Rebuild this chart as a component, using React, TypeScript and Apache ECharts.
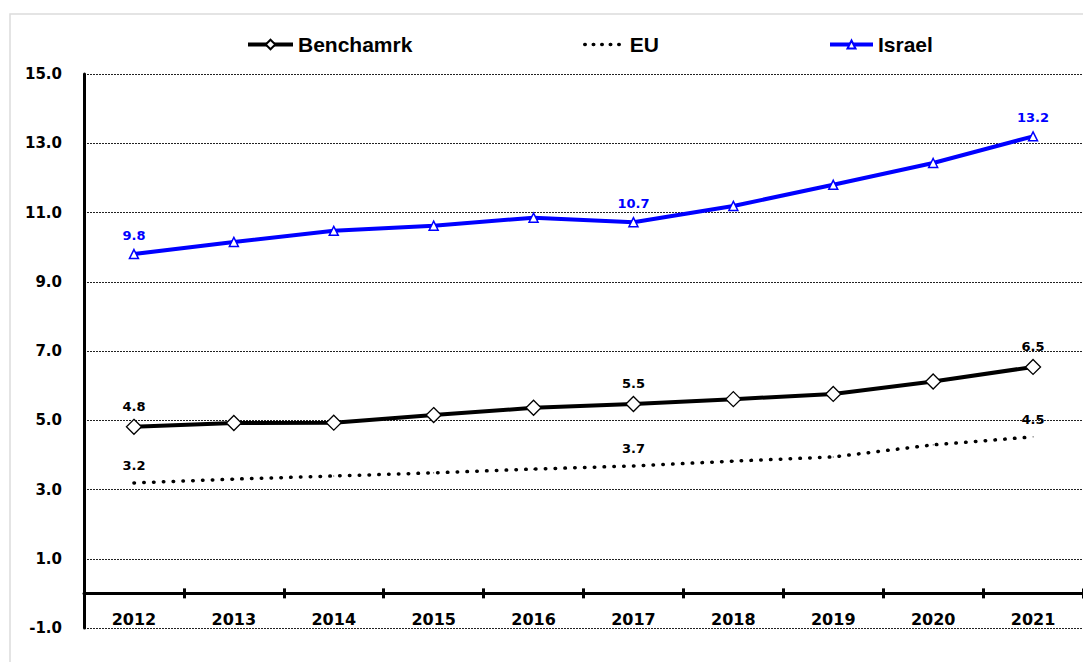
import React, { useEffect, useRef } from "react";
import * as echarts from "echarts";

const years = ["2012", "2013", "2014", "2015", "2016", "2017", "2018", "2019", "2020", "2021"];
const benchmark = [4.81, 4.92, 4.93, 5.15, 5.36, 5.47, 5.61, 5.76, 6.12, 6.54];
const eu = [3.19, 3.3, 3.39, 3.48, 3.59, 3.68, 3.82, 3.94, 4.29, 4.52];
const israel = [9.8, 10.15, 10.47, 10.62, 10.85, 10.72, 11.19, 11.8, 12.43, 13.2];
const labeledIdx = [0, 5, 9];

const FONT = "'DejaVu Sans', Verdana, sans-serif";

function withLabels(values: number[], color: string, distance: number) {
  return values.map((v, i) =>
    labeledIdx.includes(i)
      ? {
          value: v,
          label: {
            show: true,
            position: "top",
            distance,
            color,
            fontFamily: FONT,
            fontWeight: "bold",
            fontSize: 13,
            formatter: (p: any) => Number(p.value).toFixed(1),
          },
        }
      : v
  );
}

export default function App() {
  const ref = useRef<HTMLDivElement>(null);
  useEffect(() => {
    if (!ref.current) return;
    const chart = echarts.init(ref.current, null, { renderer: "svg" });
    const legendText = {
      fontFamily: "'Liberation Sans', Arial, sans-serif",
      fontWeight: "bold",
      fontSize: 21,
      color: "#000",
    };
    chart.setOption({
      animation: false,
      backgroundColor: "#fff",
      graphic: [
        {
          type: "rect",
          shape: { x: 10, y: 14, width: 1100, height: 700 },
          style: { fill: "none", stroke: "#dcdcdc", lineWidth: 1.5 },
          silent: true,
          z: -10,
        },
      ],
      legend: [
        {
          data: ["Benchamrk"],
          left: 246,
          top: 34,
          padding: 0,
          itemWidth: 45,
          itemHeight: 12,
          itemGap: 0,
          lineStyle: { width: 4 },
          textStyle: legendText,
        },
        {
          data: ["EU"],
          left: 583,
          top: 34,
          padding: 0,
          itemWidth: 40,
          itemHeight: 12,
          itemGap: 0,
          itemStyle: { opacity: 0 },
          lineStyle: { width: 3.5, type: [0.5, 8], cap: "round" },
          textStyle: legendText,
        },
        {
          data: ["Israel"],
          left: 828,
          top: 34,
          padding: 0,
          itemWidth: 43,
          itemHeight: 10,
          itemGap: 0,
          lineStyle: { width: 4 },
          textStyle: legendText,
        },
      ],
      grid: { left: 84, width: 1000, top: 74, height: 554, containLabel: false },
      xAxis: [
        {
          type: "category",
          data: years,
          position: "bottom",
          axisLine: { show: true, onZero: true, onZeroAxisIndex: 0, lineStyle: { color: "#000", width: 3 } },
          axisTick: { show: true, inside: false, length: 5, lineStyle: { color: "#000", width: 3 } },
          axisLabel: {
            margin: -17,
            color: "#000",
            fontFamily: FONT,
            fontWeight: "bold",
            fontSize: 16,
          },
          splitLine: { show: false },
        },
        {
          type: "category",
          data: years,
          position: "bottom",
          axisLine: { show: false, onZero: true, onZeroAxisIndex: 0 },
          axisTick: { show: true, inside: true, length: 5, lineStyle: { color: "#000", width: 3 } },
          axisLabel: { show: false },
          splitLine: { show: false },
        },
      ],
      yAxis: {
        type: "value",
        min: -1,
        max: 15,
        interval: 2,
        axisLine: { show: true, lineStyle: { color: "#000", width: 3 } },
        axisTick: { show: false },
        axisLabel: {
          margin: 22,
          color: "#000",
          fontFamily: FONT,
          fontWeight: "bold",
          fontSize: 15,
          formatter: (v: number) => v.toFixed(1),
        },
        splitLine: { show: true, lineStyle: { color: "#222", width: 1, type: [2, 1] } },
      },
      series: [
        {
          name: "Benchamrk",
          type: "line",
          data: withLabels(benchmark, "#000", 6),
          symbol: "diamond",
          symbolSize: 15,
          lineStyle: { color: "#000", width: 4 },
          itemStyle: { color: "#fff", borderColor: "#000", borderWidth: 1.3 },
          z: 3,
        },
        {
          name: "EU",
          type: "line",
          data: withLabels(eu, "#000", 10),
          symbol: "circle",
          symbolSize: 1,
          lineStyle: { color: "#000", width: 3.5, type: [0.5, 9.3], cap: "round" },
          itemStyle: { color: "#000", borderWidth: 0 },
          z: 2,
        },
        {
          name: "Israel",
          type: "line",
          data: withLabels(israel, "#0000ff", 7),
          symbol: "triangle",
          symbolSize: 9,
          lineStyle: { color: "#0000ff", width: 4 },
          itemStyle: { color: "#fff", borderColor: "#0000ff", borderWidth: 1.5 },
          z: 4,
        },
      ],
    });
    return () => chart.dispose();
  }, []);
  return (
    <div
      ref={ref}
      style={{ position: "fixed", left: 0, top: 0, width: 1083, height: 662 }}
    />
  );
}
